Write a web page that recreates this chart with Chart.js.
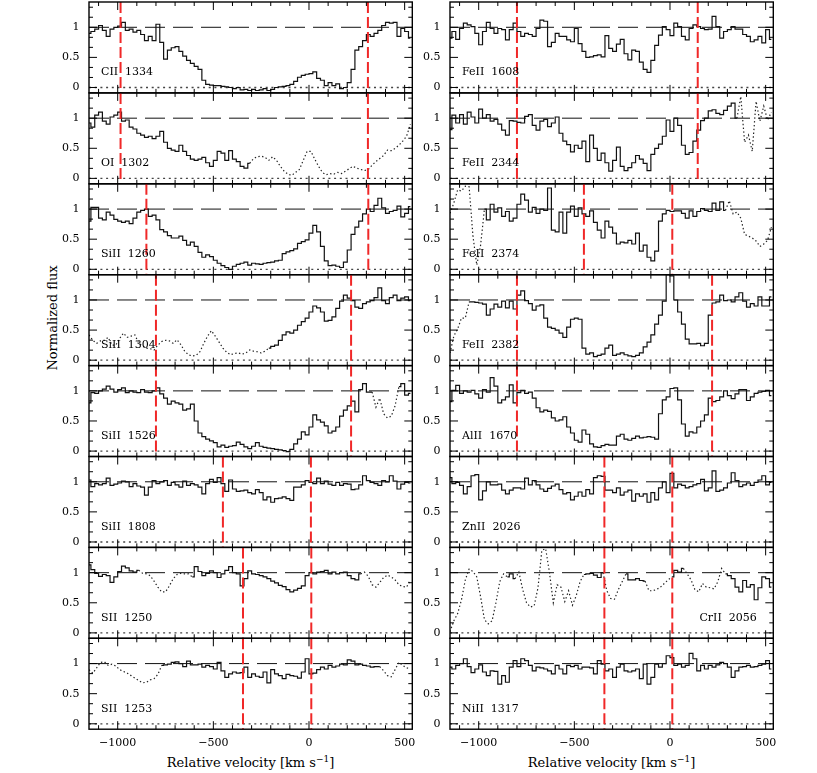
<!DOCTYPE html>
<html>
<head>
<meta charset="utf-8">
<script src="https://cdn.jsdelivr.net/npm/chart.js@4.4.1/dist/chart.umd.min.js"></script>
<style>
  body { margin: 0; background: #fff; width: 817px; height: 773px; position: relative; overflow: hidden; }
  canvas { position: absolute; }
  .title { position: absolute; font: 13px "DejaVu Serif", serif; color: #000; white-space: nowrap; line-height: 13px; }
  .title sup { font-size: 9px; line-height: 0; vertical-align: 5px; }
</style>
</head>
<body>
<div class="title" id="ylab" style="left:51.5px; top:318px; transform: translate(-50%, -50%) rotate(-90deg);">Normalized flux</div>
<div class="title" style="left:250.6px; top:756px; transform: translateX(-50%);">Relative velocity [km s<sup>−1</sup>]</div>
<div class="title" style="left:611.6px; top:756px; transform: translateX(-50%);">Relative velocity [km s<sup>−1</sup>]</div>
<script>
// velocity bins (km/s), shared by every panel
const vel = [
  -1150, -1130, -1110, -1090, -1070, -1050, -1030, -1010, -990, -970,
  -950, -930, -910, -890, -870, -850, -830, -810, -790, -770,
  -750, -730, -710, -690, -670, -650, -630, -610, -590, -570,
  -550, -530, -510, -490, -470, -450, -430, -410, -390, -370,
  -350, -330, -310, -290, -270, -250, -230, -210, -190, -170,
  -150, -130, -110, -90, -70, -50, -30, -10, 10, 30,
  50, 70, 90, 110, 130, 150, 170, 190, 210, 230,
  250, 270, 290, 310, 330, 350, 370, 390, 410, 430,
  450, 470, 490, 510, 530
];

// tick positions and labels
const xTicks = [-1100, -1000, -900, -800, -700, -600, -500, -400, -300, -200, -100, 0, 100, 200, 300, 400, 500];
const xMajor = [-1000, -500, 0, 500];
const yTicks = [0, 0.1667, 0.3333, 0.5, 0.6667, 0.8333, 1, 1.1667, 1.3333];
const yMajor = [0, 0.5, 1];

// ---- left column ----
const cii1334 = [
  0.9, 0.93, 0.97, 1.03, 0.95, 0.85, 0.97, 1.0, 1.02, 1.08,
  0.95, 0.97, 0.92, 0.95, 0.88, 0.78, 0.85, 0.78, 1.05, 0.75,
  0.47, 0.62, 0.66, 0.68, 0.6, 0.52, 0.45, 0.4, 0.35, 0.3,
  0.12, 0.05, 0.04, 0.03, 0.03, 0.02, 0.01, 0.0, -0.02, 0.0,
  -0.04, -0.03, -0.05, -0.03, -0.05, -0.04, -0.02, -0.05, -0.03, 0.0,
  0.01, 0.02, 0.03, 0.05, 0.1, 0.17, 0.2, 0.22, 0.23, 0.26,
  0.15, 0.12, 0.03, 0.08, 0.03, 0.06, -0.02, 0.0, 0.08, 0.3,
  0.62, 0.68, 0.78, 0.88, 0.85, 0.9, 0.95, 1.03, 1.08, 1.07,
  1.08, 0.85, 0.98, 0.93, 0.82
];
const limCII1334 = [-985, 308];
const blendCII1334 = [];

const oi1302 = [
  0.92, 0.85, 1.05, 1.1, 0.95, 0.9, 1.02, 1.05, 1.1, 0.95,
  0.97, 0.85, 0.82, 0.75, 0.72, 0.68, 0.7, 0.66, 0.7, 0.78,
  0.6, 0.5, 0.47, 0.45, 0.55, 0.45, 0.38, 0.32, 0.3, 0.32,
  0.35, 0.26, 0.2, 0.3, 0.45, 0.42, 0.3, 0.46, 0.32, 0.28,
  0.2, 0.17, 0.25, 0.33, 0.36, 0.37, 0.35, 0.3, 0.36, 0.3,
  0.2, 0.12, 0.07, 0.05, 0.1, 0.15, 0.3, 0.45, 0.45, 0.32,
  0.2, 0.1, 0.06, 0.08, 0.07, 0.1, 0.08, 0.12, 0.16, 0.2,
  0.17, 0.15, 0.13, 0.15, 0.22, 0.28, 0.33, 0.38, 0.47, 0.46,
  0.5, 0.55, 0.62, 0.7, 0.9
];
const limOI1302 = [-985, 308];
const blendOI1302 = [[-300, 540]];

const sii1260 = [
  0.8, 1.03, 1.03, 0.85, 0.82, 0.95, 0.9, 0.83, 0.8, 0.78,
  0.8, 0.76, 0.85, 0.95, 0.98, 1.0, 0.88, 0.9, 0.82, 0.66,
  0.62, 0.56, 0.52, 0.52, 0.55, 0.48, 0.4, 0.45, 0.38, 0.28,
  0.2, 0.24, 0.21, 0.15, 0.1, 0.06, 0.03, 0.0, 0.05, 0.08,
  0.1, 0.12, 0.07, 0.1, 0.09, 0.08, 0.1, 0.11, 0.12, 0.14,
  0.15, 0.26, 0.29, 0.31, 0.34, 0.43, 0.46, 0.49, 0.6, 0.73,
  0.62, 0.38, 0.14, 0.06, 0.07, 0.05, 0.03, 0.12, 0.32, 0.58,
  0.7, 0.8, 0.92, 1.0, 0.96, 1.06, 1.18, 1.02, 0.93, 0.96,
  0.98, 1.05, 0.87, 0.93, 1.04
];
const limSII1260 = [-850, 310];
const blendSII1260 = [];

const sii1304 = [
  0.42, 0.33, 0.28, 0.32, 0.33, 0.38, 0.25, 0.25, 0.36, 0.45,
  0.38, 0.4, 0.42, 0.28, 0.24, 0.2, 0.19, 0.17, 0.25, 0.31,
  0.33, 0.32, 0.28, 0.34, 0.26, 0.15, 0.09, 0.07, 0.08, 0.14,
  0.28, 0.4, 0.49, 0.4, 0.3, 0.2, 0.13, 0.09, 0.11, 0.12,
  0.1, 0.12, 0.17, 0.15, 0.14, 0.12, 0.15, 0.2, 0.23, 0.25,
  0.33, 0.42, 0.47, 0.45, 0.5, 0.58, 0.64, 0.7, 0.8, 0.9,
  0.87, 0.8, 0.65, 0.66, 0.72, 0.86, 0.98, 1.08, 1.03, 0.99,
  0.88, 0.86, 0.94, 0.97, 0.99, 1.04, 1.2, 0.99, 0.94, 1.04,
  1.08, 0.99, 1.03, 1.05, 0.99
];
const limSII1304 = [-800, 220];
const blendSII1304 = [[-1150, -230]];

const sii1526 = [
  0.8, 0.97, 0.96, 1.0, 1.03, 1.08, 1.03, 0.98, 1.02, 1.05,
  0.97, 1.0, 0.98, 0.97, 1.02, 0.98, 0.97, 1.0, 1.05, 0.95,
  0.88, 0.78, 0.83, 0.8, 0.78, 0.68, 0.7, 0.78, 0.5, 0.3,
  0.24, 0.2, 0.17, 0.14, 0.07, 0.1, 0.06, 0.08, 0.09, 0.15,
  0.11, 0.07, 0.04, 0.08, 0.14, 0.08, 0.06, 0.05, 0.04, 0.03,
  0.02, 0.01, -0.01, 0.03, 0.12, 0.2, 0.32, 0.27, 0.4, 0.6,
  0.52, 0.48, 0.42, 0.3, 0.33, 0.4, 0.58, 0.68, 0.75, 0.83,
  0.65, 1.02, 1.12, 0.98, 0.98, 0.73, 0.88, 0.62, 0.55, 0.58,
  0.75, 1.07, 1.12, 0.93, 0.96
];
const limSII1526 = [-800, 220];
const blendSII1526 = [[350, 460]];

const sii1808 = [
  1.03, 0.92, 0.97, 0.95, 0.97, 1.06, 0.94, 0.96, 0.98, 1.01,
  1.0, 0.92, 0.97, 0.93, 0.91, 0.78, 0.91, 1.02, 0.97, 1.0,
  1.02, 0.94, 0.99, 0.95, 0.91, 1.01, 0.94, 0.97, 0.95, 0.91,
  0.8, 0.97, 1.04, 0.99, 1.07, 0.97, 0.84, 1.03, 0.88, 0.84,
  0.85, 0.86, 0.82, 0.8, 0.87, 0.82, 0.7, 0.75, 0.66, 0.72,
  0.73, 0.75, 0.72, 0.69, 0.91, 0.91, 0.95, 1.02, 0.99, 0.97,
  1.06, 0.97, 1.01, 0.96, 0.94, 0.99, 0.94, 0.97, 0.96, 0.87,
  0.88, 0.95, 1.1, 1.02, 0.99, 0.97, 0.94, 1.02, 1.0, 1.1,
  1.01, 0.88, 0.96, 0.99, 0.98
];
const limSII1808 = [-450, 10];
const blendSII1808 = [];

const s2_1250 = [
  1.13, 1.05, 0.99, 0.94, 0.97, 0.95, 0.84, 0.93, 1.02, 1.11,
  1.08, 1.03, 1.01, 1.04, 0.99, 0.98, 0.95, 0.86, 0.76, 0.68,
  0.68, 0.78, 0.9, 0.97, 0.99, 0.98, 0.98, 0.93, 1.1, 1.02,
  0.95, 0.99, 1.03, 1.0, 0.92, 0.98, 1.04, 1.1, 1.0, 0.98,
  0.78, 0.9, 1.03, 0.98, 0.97, 0.95, 0.93, 0.9, 0.86, 0.83,
  0.79, 0.77, 0.72, 0.68, 0.71, 0.74, 0.78, 0.95, 1.0, 0.98,
  1.01, 1.02, 1.04, 0.98, 1.01, 0.98, 1.0, 1.01, 0.95, 0.9,
  0.88, 0.98, 1.01, 0.94, 0.8, 0.76, 0.84, 0.92, 0.96, 0.93,
  0.88, 0.8, 0.77, 0.76, 0.88
];
const limS2_1250 = [-345, 12];
const blendS2_1250 = [[-870, -630], [290, 540]];

const s2_1253 = [
  0.9, 0.84, 0.93, 1.02, 1.03, 0.97, 0.99, 0.96, 0.9, 0.87,
  0.84, 0.8, 0.76, 0.72, 0.68, 0.69, 0.73, 0.75, 0.82, 0.97,
  0.98, 0.99, 1.02, 1.03, 1.0, 0.95, 1.04, 0.98, 0.98, 0.99,
  0.94, 0.97, 0.95, 0.91, 1.02, 0.88, 0.77, 0.83, 0.86, 0.84,
  0.85, 0.94, 0.77, 0.83, 0.79, 0.77, 0.86, 0.68, 0.9, 0.83,
  0.8, 0.75, 0.82, 0.8, 0.79, 0.76, 0.86, 1.08, 0.83, 0.84,
  0.9, 0.94, 0.91, 0.97, 0.94, 0.96, 0.99, 0.98, 1.06, 1.04,
  0.98, 0.99, 0.97, 0.96, 0.94, 0.95, 0.95, 0.88, 0.8, 0.78,
  0.9, 1.02, 0.97, 0.93, 0.91
];
const limS2_1253 = [-345, 12];
const blendS2_1253 = [[-1150, -780], [390, 540]];

// ---- right column ----
const feii1608 = [
  0.82, 0.93, 0.8, 0.98, 1.07, 1.04, 1.01, 0.9, 0.71, 0.93,
  1.08, 0.98, 0.9, 0.98, 0.96, 0.79, 0.96, 1.07, 0.93, 0.85,
  0.9, 0.88, 0.85, 0.98, 1.12, 1.1, 0.68, 0.75, 0.9, 0.85,
  0.85, 0.79, 0.76, 0.98, 0.73, 0.6, 0.5, 0.51, 0.53, 0.54,
  0.51, 0.86, 0.65, 0.6, 0.72, 0.8, 0.56, 0.46, 0.62, 0.6,
  0.42, 0.3, 0.25, 0.45, 0.7, 0.87, 1.01, 0.96, 0.86, 1.07,
  1.01, 0.85, 0.79, 0.98, 1.04, 1.01, 0.98, 0.96, 0.97, 1.18,
  1.01, 0.82, 0.93, 0.96, 1.01, 0.97, 0.97, 0.88, 0.85, 0.76,
  0.79, 0.85, 0.74, 0.96, 0.8
];
const limFeII1608 = [-800, 145];
const blendFeII1608 = [];

const feii2344 = [
  0.81, 1.05, 0.92, 1.06, 0.9, 1.1, 1.02, 0.92, 1.15, 1.0,
  1.06, 0.95, 0.98, 0.9, 0.8, 0.72, 0.96, 0.95, 0.93, 0.92,
  1.03, 1.06, 0.88, 0.8, 0.95, 0.98, 0.86, 0.92, 1.02, 0.75,
  0.62, 0.56, 0.44, 0.55, 0.5, 0.62, 0.28, 0.72, 0.5, 0.3,
  0.42, 0.26, 0.12, 0.3, 0.52, 0.2, 0.13, 0.18, 0.26, 0.38,
  0.32, 0.25, 0.13, 0.4, 0.5, 0.57, 0.7, 0.97, 0.78, 1.0,
  0.88, 0.55, 0.4, 0.43, 0.62, 0.8, 0.96, 1.0, 1.12, 1.14,
  1.08, 1.06, 1.13, 1.2, 1.25, 1.0, 1.36, 0.6, 0.72, 0.45,
  1.28, 0.95, 1.2, 0.97, 1.1
];
const limFeII2344 = [-800, 145];
const blendFeII2344 = [[360, 540]];

const feii2374 = [
  0.93, 1.1, 1.32, 1.3, 1.38, 1.37, 0.55, 0.07, 0.4, 1.0,
  0.82, 1.08, 0.95, 1.02, 0.88, 0.96, 0.8, 0.85, 1.08, 1.25,
  1.15, 0.95, 1.03, 0.93, 1.0, 0.98, 1.35, 0.65, 0.62, 0.95,
  0.6, 0.95, 1.05, 0.88, 1.02, 0.92, 0.88, 0.97, 0.78, 0.65,
  0.52, 0.8, 0.7, 0.6, 0.42, 0.45, 0.44, 0.48, 0.42, 0.6,
  0.3, 0.4, 0.2, 0.14, 0.3, 0.8, 0.92, 0.98, 0.96, 0.97,
  0.97, 0.93, 0.85, 0.97, 0.88, 0.96, 1.01, 0.98, 0.96, 1.1,
  0.98, 1.12, 0.98, 1.14, 0.92, 0.95, 0.85, 0.58, 0.55, 0.52,
  0.47, 0.38, 0.42, 0.48, 0.7
];
const limFeII2374 = [-450, 12];
const blendFeII2374 = [[-1150, -980], [310, 540]];

const feii2382 = [
  0.12, 0.4, 0.52, 0.7, 0.7, 0.97, 0.97, 0.96, 0.95, 0.93,
  0.75, 0.85, 0.93, 0.88, 0.98, 0.87, 0.98, 0.85, 1.08, 1.15,
  0.99, 0.94, 0.83, 0.9, 0.92, 0.7, 0.55, 0.53, 0.5, 0.45,
  0.38, 0.55, 0.68, 0.7, 0.68, 0.2, 0.1, 0.12, 0.06, 0.08,
  0.1, 0.2, 0.25, 0.08, 0.1, 0.12, 0.09, 0.07, 0.06, 0.08,
  0.12, 0.22, 0.3, 0.42, 0.6, 0.75, 0.98, 1.42, 1.4, 1.0,
  0.8, 0.6, 0.35, 0.27, 0.27, 0.28, 0.24, 0.28, 0.75, 0.95,
  0.97, 1.08, 0.99, 1.0, 0.97, 1.05, 1.12, 0.98, 0.88, 0.94,
  0.9, 1.05, 0.9, 0.9, 1.05
];
const limFeII2382 = [-800, 220];
const blendFeII2382 = [[-1150, -1070]];

const alii1670 = [
  0.82, 1.01, 1.09, 0.96, 1.0, 0.98, 1.01, 0.95, 0.88, 1.02,
  0.98, 1.22, 1.08, 0.8, 0.85, 0.9, 1.1, 0.8, 0.97, 1.01,
  0.96, 0.98, 0.88, 0.72, 0.65, 0.68, 0.66, 0.55, 0.5, 0.52,
  0.57, 0.4, 0.3, 0.18, 0.15, 0.35, 0.28, 0.12, 0.07, 0.06,
  0.09, 0.11, 0.1, 0.1, 0.25, 0.28, 0.2, 0.18, 0.21, 0.25,
  0.22, 0.23, 0.24, 0.23, 0.2, 0.62, 0.85, 0.9, 1.04, 1.05,
  0.85, 0.45, 0.25, 0.32, 0.3, 0.4, 0.5, 0.6, 0.88, 0.82,
  0.84, 0.9, 1.0, 0.92, 0.87, 0.95, 1.02, 1.02, 0.84, 0.9,
  0.96, 0.98, 0.99, 1.01, 0.92
];
const limAlII1670 = [-800, 220];
const blendAlII1670 = [];

const znii2026 = [
  1.07, 0.97, 0.99, 0.94, 0.8, 0.92, 1.1, 1.12, 0.7, 0.85,
  1.0, 0.95, 0.95, 0.96, 0.86, 0.8, 0.86, 0.9, 0.9, 0.88,
  1.06, 0.95, 1.02, 0.95, 0.88, 0.84, 0.89, 0.93, 0.96, 0.87,
  0.8, 0.82, 0.7, 0.76, 0.83, 0.76, 0.87, 0.8, 1.07, 1.1,
  1.09, 0.86, 0.86, 0.82, 0.9, 0.78, 0.83, 0.86, 0.68, 0.8,
  0.76, 0.8, 0.66, 0.82, 0.7, 0.9, 1.0, 0.82, 1.14, 0.9,
  0.96, 0.94, 0.9, 0.92, 0.95, 0.97, 1.04, 0.85, 0.9, 1.18,
  0.84, 0.86, 0.9, 0.98, 1.15, 1.02, 0.92, 0.95, 0.98, 0.94,
  0.99, 1.03, 1.1, 0.95, 0.99
];
const limZnII2026 = [-343, 12];
const blendZnII2026 = [];

const crii2056 = [
  0.02, 0.2, 0.32, 0.55, 0.88, 1.06, 1.02, 0.93, 0.6, 0.22,
  0.15, 0.2, 0.5, 0.85, 0.98, 0.93, 0.98, 0.9, 1.01, 0.72,
  0.5, 0.43, 0.45, 0.75, 1.37, 1.4, 1.0, 0.5, 0.8, 0.76,
  0.52, 0.7, 0.46, 0.62, 0.85, 0.97, 0.98, 0.99, 0.96, 0.92,
  1.0, 0.7, 0.57, 0.56, 0.72, 0.85, 0.98, 0.88, 0.88, 0.9,
  0.87, 0.86, 0.7, 0.7, 0.72, 0.76, 0.82, 0.88, 0.93, 1.04,
  1.01, 1.07, 0.98, 0.88, 0.72, 0.68, 0.82, 0.76, 0.75, 0.73,
  0.85, 1.07, 0.98, 0.95, 0.9, 0.76, 0.68, 0.87, 0.76, 0.8,
  0.55, 0.75, 0.93, 0.9, 0.76
];
const limCrII2056 = [-343, 12];
const blendCrII2056 = [[-1150, -870], [-790, -470], [-330, -240], [-120, 0], [90, 280]];

const nii1317 = [
  0.94, 0.91, 0.97, 1.0, 1.08, 0.95, 0.85, 0.91, 0.98, 0.86,
  0.8, 0.88, 0.87, 0.66, 0.8, 0.69, 0.94, 1.05, 0.95, 1.08,
  1.05, 0.97, 0.88, 0.94, 0.93, 0.91, 0.88, 0.83, 0.97, 0.91,
  0.83, 0.97, 0.95, 0.97, 0.91, 0.94, 0.94, 0.93, 0.83, 1.05,
  0.99, 0.88, 0.91, 0.77, 0.94, 0.99, 0.88, 0.86, 0.88, 0.91,
  0.75, 0.99, 0.66, 0.77, 0.99, 0.94, 1.0, 1.13, 1.1, 0.97,
  0.99, 0.94, 0.97, 1.17, 1.08, 0.88, 0.97, 0.91, 0.97, 0.94,
  0.98, 1.02, 1.0, 0.94, 0.77, 0.88, 0.94, 0.95, 0.97, 0.94,
  0.95, 0.97, 0.99, 1.05, 0.91
];
const limNiII1317 = [-343, 12];
const blendNiII1317 = [];

const leftCol = [
  { name: 'CII  1334', flux: cii1334, lim: limCII1334, blend: blendCII1334 },
  { name: 'OI  1302', flux: oi1302, lim: limOI1302, blend: blendOI1302 },
  { name: 'SiII  1260', flux: sii1260, lim: limSII1260, blend: blendSII1260 },
  { name: 'SiII  1304', flux: sii1304, lim: limSII1304, blend: blendSII1304 },
  { name: 'SiII  1526', flux: sii1526, lim: limSII1526, blend: blendSII1526 },
  { name: 'SiII  1808', flux: sii1808, lim: limSII1808, blend: blendSII1808 },
  { name: 'SII  1250', flux: s2_1250, lim: limS2_1250, blend: blendS2_1250 },
  { name: 'SII  1253', flux: s2_1253, lim: limS2_1253, blend: blendS2_1253 }
];
const rightCol = [
  { name: 'FeII  1608', flux: feii1608, lim: limFeII1608, blend: blendFeII1608 },
  { name: 'FeII  2344', flux: feii2344, lim: limFeII2344, blend: blendFeII2344 },
  { name: 'FeII  2374', flux: feii2374, lim: limFeII2374, blend: blendFeII2374 },
  { name: 'FeII  2382', flux: feii2382, lim: limFeII2382, blend: blendFeII2382 },
  { name: 'AlII  1670', flux: alii1670, lim: limAlII1670, blend: blendAlII1670 },
  { name: 'ZnII  2026', flux: znii2026, lim: limZnII2026, blend: blendZnII2026 },
  { name: 'CrII  2056', flux: crii2056, lim: limCrII2056, blend: blendCrII2056, right: true },
  { name: 'NiII  1317', flux: nii1317, lim: limNiII1317, blend: blendNiII1317 }
];

// layout of the panel grid
const colLeft = [89, 450];
const plotW = 323.3;
const gridTop = 2;
const rowH = 90.9;
const SERIF = '"DejaVu Serif", serif';

function hline(ctx, a, py) {
  ctx.beginPath();
  ctx.moveTo(a.left, py);
  ctx.lineTo(a.right, py);
  ctx.stroke();
}

function fmtVel(v) {
  return v < 0 ? '\u2212' + (-v) : String(v);
}

// frame, inward ticks, reference lines, labels
const deco = {
  id: 'deco',
  beforeDatasetsDraw(chart, args, o) {
    const { ctx, chartArea: a, scales: { y } } = chart;
    ctx.save();
    ctx.strokeStyle = '#111';
    ctx.lineWidth = 1;
    ctx.setLineDash([20, 8]);
    hline(ctx, a, y.getPixelForValue(1));
    ctx.strokeStyle = '#444';
    ctx.lineWidth = 1.3;
    ctx.setLineDash([2, 3.7]);
    hline(ctx, a, y.getPixelForValue(0));
    ctx.restore();
  },
  afterDatasetsDraw(chart, args, o) {
    const { ctx, chartArea: a, scales: { x, y } } = chart;
    ctx.save();

    // velocity limits
    ctx.strokeStyle = '#f02828';
    ctx.lineWidth = 2;
    ctx.setLineDash([11, 4]);
    o.lim.forEach(v => {
      const px = x.getPixelForValue(v);
      ctx.beginPath();
      ctx.moveTo(px, a.top);
      ctx.lineTo(px, a.bottom);
      ctx.stroke();
    });
    ctx.setLineDash([]);

    // frame
    ctx.strokeStyle = '#000';
    ctx.lineWidth = 1.4;
    ctx.strokeRect(a.left, a.top, a.right - a.left, a.bottom - a.top);

    // ticks pointing inward on all four sides
    ctx.lineWidth = 1;
    ctx.beginPath();
    xTicks.forEach(v => {
      const px = x.getPixelForValue(v);
      const len = xMajor.includes(v) ? 8 : 4;
      ctx.moveTo(px, a.bottom); ctx.lineTo(px, a.bottom - len);
      ctx.moveTo(px, a.top); ctx.lineTo(px, a.top + len);
    });
    yTicks.forEach(v => {
      const py = y.getPixelForValue(v);
      const len = yMajor.includes(v) ? 8 : 4;
      ctx.moveTo(a.left, py); ctx.lineTo(a.left + len, py);
      ctx.moveTo(a.right, py); ctx.lineTo(a.right - len, py);
    });
    ctx.stroke();

    // tick labels
    ctx.fillStyle = '#000';
    ctx.font = '11px ' + SERIF;
    ctx.textAlign = 'right';
    ctx.textBaseline = 'middle';
    yMajor.forEach(v => ctx.fillText(String(v), a.left - 9.5, y.getPixelForValue(v)));
    if (o.bottom) {
      ctx.textAlign = 'center';
      ctx.textBaseline = 'alphabetic';
      xMajor.forEach(v => ctx.fillText(fmtVel(v), x.getPixelForValue(v), a.bottom + 16.8));
    }

    // ion label
    ctx.textBaseline = 'alphabetic';
    const by = y.getPixelForValue(0) - 12;
    if (o.right) {
      ctx.textAlign = 'right';
      ctx.fillText(o.name, a.right - 16.5, by);
    } else {
      ctx.textAlign = 'left';
      ctx.fillText(o.name, a.left + 12, by);
    }
    ctx.restore();
  }
};

function inBlend(v, blend) {
  return blend.some(([lo, hi]) => v >= lo && v <= hi);
}

function makePanel(p, col, row, last) {
  const plotLeft = colLeft[col];
  const plotTop = gridTop + row * rowH;
  const plotBot = plotTop + rowH;
  const cvLeft = Math.floor(plotLeft) - 56;
  const cvTop = Math.floor(plotTop) - 5;
  const cvW = Math.ceil(plotLeft + plotW) + 6 - cvLeft;
  const cvH = Math.ceil(plotBot) + (last ? 28 : 5) - cvTop;

  const cv = document.createElement('canvas');
  cv.width = cvW;
  cv.height = cvH;
  cv.style.left = cvLeft + 'px';
  cv.style.top = cvTop + 'px';
  cv.style.width = cvW + 'px';
  cv.style.height = cvH + 'px';
  document.body.appendChild(cv);

  const solid = vel.map((v, i) => ({ x: v, y: inBlend(v, p.blend) ? null : p.flux[i] }));
  const dotted = vel.map((v, i) => {
    const on = inBlend(v, p.blend) ||
      (i > 0 && inBlend(vel[i - 1], p.blend)) ||
      (i < vel.length - 1 && inBlend(vel[i + 1], p.blend));
    return { x: v, y: on ? p.flux[i] : null };
  });

  new Chart(cv, {
    type: 'line',
    data: {
      datasets: [
        { data: solid, stepped: 'middle', borderColor: '#111', borderWidth: 1.2,
          pointRadius: 0, spanGaps: false },
        { data: dotted, borderColor: '#222', borderWidth: 1.2, borderDash: [1.4, 2.4],
          pointRadius: 0, spanGaps: false }
      ]
    },
    options: {
      responsive: false,
      animation: false,
      devicePixelRatio: 1,
      events: [],
      layout: {
        padding: {
          left: plotLeft - cvLeft,
          right: cvW - (plotLeft + plotW - cvLeft),
          top: plotTop - cvTop,
          bottom: cvH - (plotBot - cvTop)
        }
      },
      plugins: {
        legend: { display: false },
        tooltip: { enabled: false },
        deco: { lim: p.lim, name: p.name, right: !!p.right, bottom: last }
      },
      scales: {
        x: { type: 'linear', min: -1150, max: 540, display: false },
        y: { type: 'linear', min: -0.09, max: 1.42, display: false }
      }
    },
    plugins: [deco]
  });
}

leftCol.forEach((p, r) => makePanel(p, 0, r, r === leftCol.length - 1));
rightCol.forEach((p, r) => makePanel(p, 1, r, r === rightCol.length - 1));
</script>
</body>
</html>
